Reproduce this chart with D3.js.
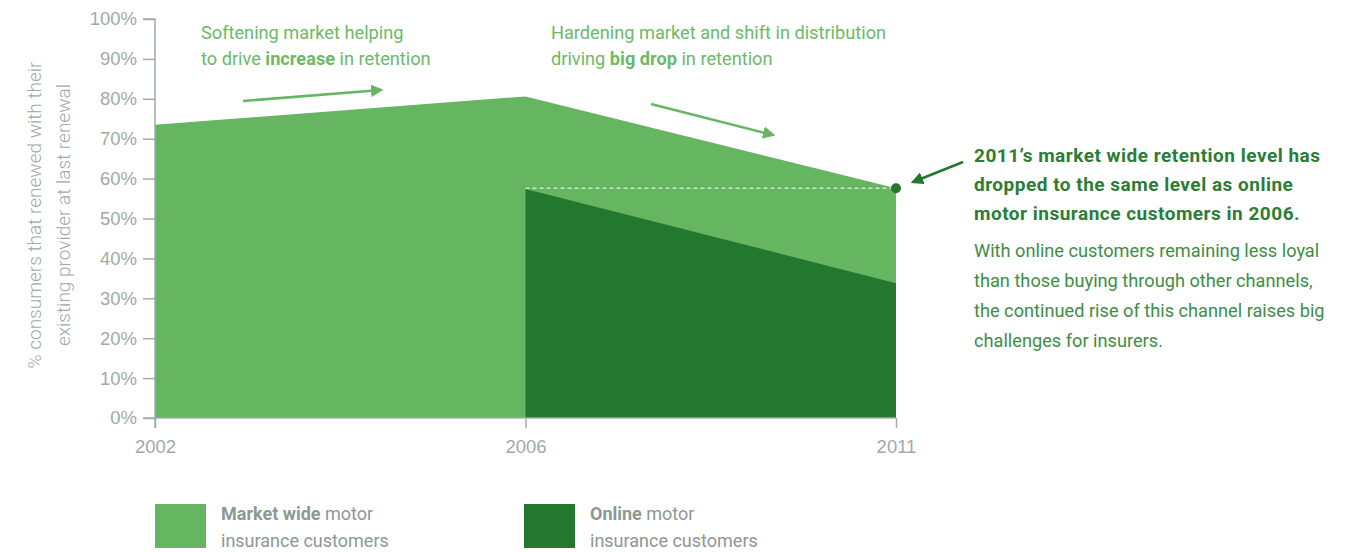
<!DOCTYPE html>
<html>
<head>
<meta charset="utf-8">
<script src="https://cdn.jsdelivr.net/npm/d3@7"></script>
<style>
  body { margin: 0; background: #fff; }
  svg { display: block; font-family: 'Roboto', sans-serif; }
  .axis path, .axis line { stroke: #a4aca8; stroke-width: 1.5; }
  .axis text { fill: #a0aaa5; font-size: 18.5px; font-weight: 300; }
</style>
</head>
<body>
<div id="chart"></div>
<script>
const years = ['2002', '2006', '2011'];
const marketWide = [73.5, 80.6, 57.6];
const online = [null, 57.4, 33.8];
const yTicks = [0, 10, 20, 30, 40, 50, 60, 70, 80, 90, 100];

const lightGreen = '#65b561';
const darkGreen = '#23772f';

const svg = d3.select('#chart')
  .append('svg')
  .attr('width', 1365)
  .attr('height', 552);

// scales
const x = d3.scalePoint()
  .domain(years)
  .range([155, 896]);
const y = d3.scaleLinear()
  .domain([0, 100])
  .range([418, 19]);

const marketData = years.map((yr, i) => ({ yr, v: marketWide[i] }));
const onlineData = years.map((yr, i) => ({ yr, v: online[i] })).filter(d => d.v != null);

const area = d3.area()
  .x(d => x(d.yr))
  .y0(y(0))
  .y1(d => y(d.v));

// market wide area
svg.append('path')
  .datum(marketData)
  .attr('fill', lightGreen)
  .attr('d', area);

// online area
svg.append('path')
  .datum(onlineData)
  .attr('fill', darkGreen)
  .attr('d', area);

// dashed line: online 2006 level across to 2011
const last = marketData[marketData.length - 1];
svg.append('line')
  .attr('x1', x(onlineData[0].yr))
  .attr('x2', x(last.yr))
  .attr('y1', y(last.v))
  .attr('y2', y(last.v))
  .attr('stroke', '#fff')
  .attr('stroke-width', 1)
  .attr('stroke-dasharray', '4,3');

// axes
const axisY = d3.axisLeft(y)
  .tickValues(yTicks)
  .tickSize(12)
  .tickPadding(6)
  .tickFormat(d => `${d}%`);
svg.append('g')
  .attr('class', 'axis')
  .attr('transform', `translate(${x(years[0])},0)`)
  .call(axisY)
  .call(g => g.select('.domain').attr('d', `M-12,${y(100)}H0V${y(0) + 10}`));

const axisX = d3.axisBottom(x)
  .tickSize(10)
  .tickPadding(12);
svg.append('g')
  .attr('class', 'axis')
  .attr('transform', `translate(0,${y(0)})`)
  .call(axisX)
  .call(g => g.select('.domain').attr('d', `M${x(years[0]) - 12},0H${x(years[2])}`))
  .call(g => g.selectAll('text').attr('dy', '0.71em'));

// y axis title
const yTitle = svg.append('text')
  .attr('transform', 'translate(41,215) rotate(-90)')
  .attr('text-anchor', 'middle')
  .attr('fill', '#a0aaa5')
  .style('font-size', '19px')
  .style('font-weight', 300);
yTitle.append('tspan').attr('x', 0).attr('dy', 0).text('% consumers that renewed with their');
yTitle.append('tspan').attr('x', 0).attr('dy', '1.55em').text('existing provider at last renewal');

// arrow markers
const defs = svg.append('defs');
function marker(id, color) {
  defs.append('marker')
    .attr('id', id)
    .attr('viewBox', '0 0 10 10')
    .attr('refX', 8)
    .attr('refY', 5)
    .attr('markerWidth', 5)
    .attr('markerHeight', 5)
    .attr('markerUnits', 'strokeWidth')
    .attr('orient', 'auto')
    .append('path')
      .attr('d', 'M0,0L10,5L0,10Z')
      .attr('fill', color);
}
marker('arrLight', lightGreen);
marker('arrDark', darkGreen);

function richText(xPos, yPos, lines, color, size, lineH, spacing) {
  const t = svg.append('text')
    .attr('x', xPos)
    .attr('y', yPos)
    .attr('fill', color)
    .style('font-size', `${size}px`)
    .style('letter-spacing', spacing || 0);
  lines.forEach((parts, i) => {
    parts.forEach((p, j) => {
      const s = t.append('tspan').text(p[0]);
      if (j === 0) s.attr('x', xPos).attr('dy', i === 0 ? 0 : lineH);
      if (p[1]) s.style('font-weight', 'bold');
    });
  });
}

richText(201, 39, [
  [['Softening market helping']],
  [['to drive '], ['increase', true], [' in retention']],
], '#6cb968', 18.2, 26);

richText(551, 39, [
  [['Hardening market and shift in distribution']],
  [['driving '], ['big drop', true], [' in retention']],
], '#6cb968', 18.2, 26);

svg.append('line')
  .attr('x1', 243).attr('y1', 101)
  .attr('x2', 381).attr('y2', 90)
  .attr('stroke', lightGreen)
  .attr('stroke-width', 2.5)
  .attr('marker-end', 'url(#arrLight)');

svg.append('line')
  .attr('x1', 651).attr('y1', 104)
  .attr('x2', 773).attr('y2', 135)
  .attr('stroke', lightGreen)
  .attr('stroke-width', 2.5)
  .attr('marker-end', 'url(#arrLight)');

// right callout
svg.append('circle')
  .attr('cx', x(last.yr))
  .attr('cy', y(last.v))
  .attr('r', 5)
  .attr('fill', darkGreen);

svg.append('line')
  .attr('x1', 963).attr('y1', 162)
  .attr('x2', 913).attr('y2', 182)
  .attr('stroke', darkGreen)
  .attr('stroke-width', 2.5)
  .attr('marker-end', 'url(#arrDark)');

richText(974, 162, [
  [['2011\u2019s market wide retention level has', true]],
  [['dropped to the same level as online', true]],
  [['motor insurance customers in 2006.', true]],
], '#2b7d36', 19, 29, '0.5px');

richText(974, 257, [
  [['With online customers remaining less loyal']],
  [['than those buying through other channels,']],
  [['the continued rise of this channel raises big']],
  [['challenges for insurers.']],
], '#3f8d45', 18.2, 30);

// legend
const legend = [
  { color: lightGreen, bold: 'Market wide', x: 155 },
  { color: darkGreen, bold: 'Online', x: 524 },
];
legend.forEach(l => {
  svg.append('rect')
    .attr('x', l.x)
    .attr('y', 504)
    .attr('width', 51)
    .attr('height', 44)
    .attr('fill', l.color);
  richText(l.x + 66, 520, [
    [[l.bold, true], [' motor']],
    [['insurance customers']],
  ], '#8d9893', 18, 27);
});
</script>
</body>
</html>
